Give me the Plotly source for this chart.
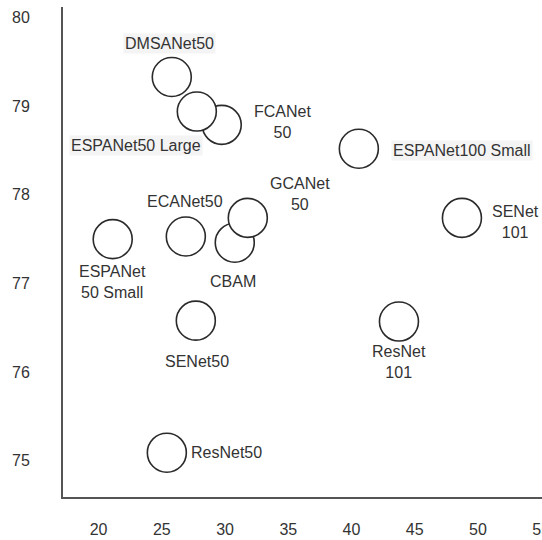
import plotly.graph_objects as go

# Data (params in M, top-1 accuracy %)
names = ["FCANet50", "CBAM", "ESPANet50 Large", "GCANet50", "DMSANet50",
         "ECANet50", "ESPANet50 Small", "ESPANet100 Small", "SENet101",
         "SENet50", "ResNet50", "ResNet101"]
params = [29.74, 30.77, 27.77, 31.80, 25.79, 26.90, 21.12, 40.58, 48.73,
          27.69, 25.40, 43.75]
acc = [78.79, 77.46, 78.94, 77.74, 79.33, 77.53, 77.50, 78.52, 77.74,
       76.58, 75.09, 76.57]
labels = ["FCANet<br>50", "CBAM", "ESPANet50 Large", "GCANet<br>50", "DMSANet50",
          "ECANet50", "ESPANet<br>50 Small", "ESPANet100 Small", "SENet<br>101",
          "SENet50", "ResNet50", "ResNet<br>101"]
# label offsets in pixels (dx right, dy down) and background flag
offsets = [(61, -3), (-2, 39), (-61, 34), (52, -24), (-2, -34),
           (-1, -35), (0, 43), (103, 2), (54, 4),
           (1, 41), (60, 0), (0, 40)]
shaded = [False, False, True, False, True, False, False, True, False,
          False, False, False]

x_ticks = [20, 25, 30, 35, 40, 45, 50, 55]
y_ticks = [75, 76, 77, 78, 79, 80]

font = dict(family="Liberation Sans, Arial, sans-serif", size=16, color="#333333")

fig = go.Figure()
fig.add_trace(go.Scatter(
    x=params, y=acc, mode="markers",
    marker=dict(size=39, color="white", line=dict(color="#2a2a2a", width=1.6)),
    hoverinfo="text", text=names, showlegend=False,
))

for n, xv, yv, lab, (dx, dy), sh in zip(names, params, acc, labels, offsets, shaded):
    fig.add_annotation(
        x=xv, y=yv, xref="x", yref="y", text=lab, showarrow=False,
        xanchor="center", yanchor="middle", align="center",
        xshift=dx, yshift=-dy, font=font,
        bgcolor="#f4f4f4" if sh else "rgba(0,0,0,0)", borderpad=1,
    )

fig.update_layout(
    width=542, height=540,
    margin=dict(l=63, r=0, t=7, b=43, autoexpand=False),
    plot_bgcolor="white", paper_bgcolor="white",
    font=font,
    xaxis=dict(range=[17.19, 55.06], tickvals=x_ticks, showgrid=False,
               zeroline=False, showline=True, linecolor="#555555", linewidth=2,
               ticks="", ticklabelstandoff=17, tickfont=font,
               automargin=False, ticklabeloverflow="allow"),
    yaxis=dict(range=[74.59, 80.12], tickvals=y_ticks, showgrid=False,
               zeroline=False, showline=True, linecolor="#555555", linewidth=2,
               ticks="", ticklabelstandoff=28, tickfont=font,
               automargin=False),
)

fig.write_html("out.html",
               config={"displayModeBar": False},
               post_script="document.body.style.margin='0px';"
                           "document.body.style.overflow='hidden';")
